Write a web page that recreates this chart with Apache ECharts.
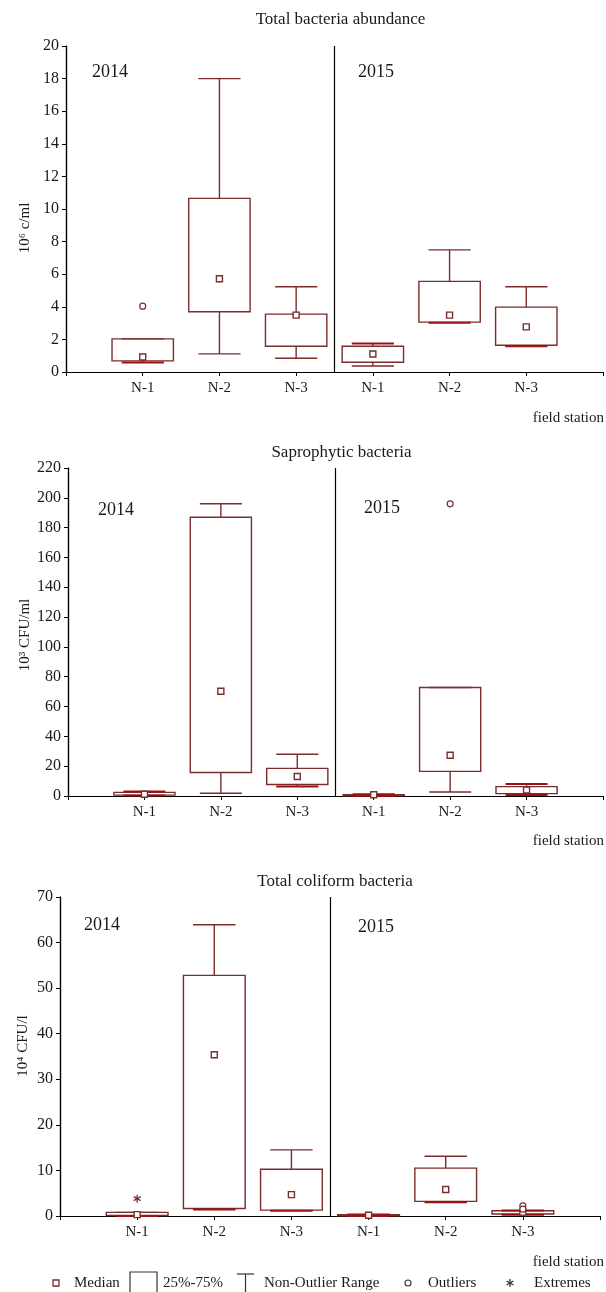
<!DOCTYPE html>
<html>
<head>
<meta charset="utf-8">
<script src="https://cdn.jsdelivr.net/npm/echarts@6/dist/echarts.min.js"></script>
<style>
html,body{margin:0;padding:0;background:#fff;}
#chart{width:606px;height:1292px;}
</style>
</head>
<body>
<div id="chart"></div>
<script>
// ---------- data ----------
const stations = ['N-1', 'N-2', 'N-3', 'N-1', 'N-2', 'N-3'];
const stationPos = [1, 2, 3, 4, 5, 6];
const years = ['2014', '2015'];

// Total bacteria abundance (10^6 c/ml)
const tbaLow  = [0.58, 1.11, 0.84, 0.37, 3.02, 1.58];
const tbaQ1   = [0.68, 3.70, 1.58, 0.60, 3.06, 1.64];
const tbaMed  = [0.92, 5.72, 3.49, 1.10, 3.49, 2.77];
const tbaQ3   = [2.03, 10.65, 3.55, 1.58, 5.56, 3.98];
const tbaHigh = [2.03, 18.0, 5.23, 1.75, 7.49, 5.23];
const tbaOutliers = [[1, 4.04]];
const tbaExtremes = [];
const tbaTicks = [0, 20, 2];

// Saprophytic bacteria (10^3 CFU/ml)
const sapLow  = [0.3, 1.8, 6.3, 0.1, 2.7, 0.7];
const sapQ1   = [0.6, 15.8, 7.7, 0.2, 16.5, 1.6];
const sapMed  = [1.2, 70.3, 13.1, 0.8, 27.3, 4.0];
const sapQ3   = [2.4, 187.0, 18.5, 0.9, 72.8, 6.3];
const sapHigh = [3.0, 196.0, 28.0, 1.1, 72.8, 8.1];
const sapOutliers = [[5, 196]];
const sapExtremes = [];
const sapTicks = [0, 220, 20];

// Total coliform bacteria (10^4 CFU/l)
const colLow  = [0.0, 1.43, 1.15, 0.0, 3.0, 0.3];
const colQ1   = [0.1, 1.65, 1.3, 0.05, 3.2, 0.43];
const colMed  = [0.3, 35.4, 4.7, 0.15, 5.8, 0.85];
const colQ3   = [0.8, 52.8, 10.25, 0.3, 10.5, 1.15];
const colHigh = [0.8, 63.9, 14.5, 0.35, 13.1, 1.2];
const colOutliers = [[6, 2.2], [6, 1.5]];
const colExtremes = [[1, 3.8]];
const colTicks = [0, 70, 10];

// ---------- style ----------
const FONT = "'Liberation Serif', 'Times New Roman', serif";
const BOX = '#7a2d2d';
const RED = '#9a1212';
const TXT = '#1a1a1a';

const panels = [
  {title: 'Total bacteria abundance', yName: '10\u2076 c/ml', low: tbaLow, q1: tbaQ1, med: tbaMed, q3: tbaQ3, high: tbaHigh,
   out: tbaOutliers, ext: tbaExtremes, ticks: tbaTicks, grid: {left: 66, top: 46, width: 539, height: 326},
   titleY: 6, yearY: [63, 63], yearX: [92, 358], fsY: 411, nameX: 25, nameY: 228},
  {title: 'Saprophytic bacteria', yName: '10\u00b3 CFU/ml', low: sapLow, q1: sapQ1, med: sapMed, q3: sapQ3, high: sapHigh,
   out: sapOutliers, ext: sapExtremes, ticks: sapTicks, grid: {left: 68, top: 468, width: 537, height: 328},
   titleY: 439, yearY: [501, 499], yearX: [98, 364], fsY: 834, nameX: 25, nameY: 635},
  {title: 'Total coliform bacteria', yName: '10\u2074 CFU/l', low: colLow, q1: colQ1, med: colMed, q3: colQ3, high: colHigh,
   out: colOutliers, ext: colExtremes, ticks: colTicks, grid: {left: 60, top: 897, width: 540, height: 319},
   titleY: 868, yearY: [916, 918], yearX: [84, 358], fsY: 1255, nameX: 23, nameY: 1046}
];

function boxRender(params, api) {
  const x = api.value(0);
  const pLow = api.coord([x, api.value(1)]);
  const pQ1 = api.coord([x, api.value(2)]);
  const pMed = api.coord([x, api.value(3)]);
  const pQ3 = api.coord([x, api.value(4)]);
  const pHigh = api.coord([x, api.value(5)]);
  const bw = api.size([0.8, 0])[0];
  const cw = api.size([0.55, 0])[0];
  const cx = pMed[0];
  const st = {stroke: BOX, lineWidth: 1.4, fill: null};
  // whisker caps sitting on a box edge show as a darker red double line
  const lowSt = Math.abs(pLow[1] - pQ1[1]) < 3.5 ? {stroke: RED, lineWidth: 2} : st;
  const highSt = (Math.abs(pHigh[1] - pQ3[1]) < 3.5 && pHigh[1] !== pQ3[1]) ? {stroke: RED, lineWidth: 2} : st;
  return {
    type: 'group',
    children: [
      {type: 'line', shape: {x1: cx, y1: pHigh[1], x2: cx, y2: pQ3[1]}, style: st},
      {type: 'line', shape: {x1: cx, y1: pQ1[1], x2: cx, y2: pLow[1]}, style: st},
      {type: 'rect', shape: {x: cx - bw / 2, y: pQ3[1], width: bw, height: Math.max(pQ1[1] - pQ3[1], 0.5)}, style: {stroke: BOX, lineWidth: 1.4, fill: '#fff'}},
      {type: 'line', shape: {x1: cx - cw / 2, y1: pHigh[1], x2: cx + cw / 2, y2: pHigh[1]}, style: highSt, z2: 2},
      {type: 'line', shape: {x1: cx - cw / 2, y1: pLow[1], x2: cx + cw / 2, y2: pLow[1]}, style: lowSt, z2: 2},
      {type: 'rect', shape: {x: cx - 3, y: pMed[1] - 3, width: 6, height: 6}, style: {stroke: BOX, lineWidth: 1.4, fill: '#fff'}, z2: 3}
    ]
  };
}
function outRender(params, api) {
  const p = api.coord([api.value(0), api.value(1)]);
  return {type: 'circle', shape: {cx: p[0], cy: p[1], r: 3}, style: {stroke: BOX, lineWidth: 1.2, fill: '#fff'}};
}
function asterisk(cx, cy, r, color) {
  const st = {stroke: color || BOX, lineWidth: 1.3};
  const k = Math.sin(Math.PI / 3) * r, h = r / 2;
  return [
    {type: 'line', shape: {x1: cx, y1: cy - r, x2: cx, y2: cy + r}, style: st},
    {type: 'line', shape: {x1: cx - k, y1: cy - h, x2: cx + k, y2: cy + h}, style: st},
    {type: 'line', shape: {x1: cx - k, y1: cy + h, x2: cx + k, y2: cy - h}, style: st}
  ];
}
function extRender(params, api) {
  const p = api.coord([api.value(0), api.value(1)]);
  return {type: 'group', children: asterisk(p[0], p[1], 4)};
}

const option = {
  animation: false,
  backgroundColor: '#fff',
  title: [], grid: [], xAxis: [], yAxis: [], series: [], graphic: []
};

panels.forEach((pn, i) => {
  const g = pn.grid;
  option.title.push({text: pn.title, left: g.left + g.width / 2, top: pn.titleY, textAlign: 'center',
    textStyle: {fontFamily: FONT, fontSize: 17, fontWeight: 'normal', color: TXT}});
  option.grid.push(Object.assign({}, g));
  const xBase = {gridIndex: i, type: 'value', min: 0, max: 7, interval: 1, splitLine: {show: false},
    axisLine: {lineStyle: {color: '#000', width: 1.2}}};
  option.xAxis.push(Object.assign({}, xBase, {position: 'bottom',
    axisTick: {inside: false, length: 3, lineStyle: {color: '#000'}},
    axisLabel: {fontFamily: FONT, fontSize: 15, color: TXT, margin: 9,
      formatter: v => (v >= 1 && v <= 6) ? stations[v - 1] : ''}}));
  option.xAxis.push(Object.assign({}, xBase, {position: 'top',
    axisTick: {inside: true, length: 4, lineStyle: {color: '#000'}}, axisLabel: {show: false}}));
  const yBase = {gridIndex: i, type: 'value', min: pn.ticks[0], max: pn.ticks[1], interval: pn.ticks[2],
    splitLine: {show: false}, axisLine: {show: true, lineStyle: {color: '#000', width: 1.2}}};
  option.yAxis.push(Object.assign({}, yBase, {position: 'left',
    axisTick: {show: true, inside: false, length: 4, lineStyle: {color: '#000'}},
    axisLabel: {fontFamily: FONT, fontSize: 16, color: TXT, margin: 7}}));
  option.yAxis.push(Object.assign({}, yBase, {position: 'right',
    axisTick: {show: true, inside: true, length: 4, lineStyle: {color: '#000'}}, axisLabel: {show: false}}));

  const boxData = stationPos.map((p, k) => [p, pn.low[k], pn.q1[k], pn.med[k], pn.q3[k], pn.high[k]]);
  option.series.push({type: 'custom', xAxisIndex: 2 * i, yAxisIndex: 2 * i, renderItem: boxRender,
    encode: {x: 0, y: [1, 2, 3, 4, 5]}, data: boxData, z: 3,
    markLine: {silent: true, symbol: 'none', label: {show: false},
      lineStyle: {color: '#000', type: 'solid', width: 1.2}, data: [{xAxis: 3.5}]}});
  if (pn.out.length) option.series.push({type: 'custom', xAxisIndex: 2 * i, yAxisIndex: 2 * i, renderItem: outRender,
    encode: {x: 0, y: 1}, data: pn.out, z: 4});
  if (pn.ext.length) option.series.push({type: 'custom', xAxisIndex: 2 * i, yAxisIndex: 2 * i, renderItem: extRender,
    encode: {x: 0, y: 1}, data: pn.ext, z: 4});

  years.forEach((yr, j) => {
    option.graphic.push({type: 'text', left: pn.yearX[j], top: pn.yearY[j],
      style: {text: yr, font: '18px ' + FONT, fill: TXT}});
  });
  option.graphic.push({type: 'text', right: 2, top: pn.fsY,
    style: {text: 'field station', font: '15px ' + FONT, fill: TXT}});
  option.graphic.push({type: 'text', x: pn.nameX, y: pn.nameY, rotation: Math.PI / 2,
    style: {text: pn.yName, font: '15px ' + FONT, fill: TXT, textAlign: 'center', textVerticalAlign: 'middle'}});
});

// ---------- legend (drawn) ----------
const LY = 1283;
const LF = '15px ' + FONT;
const legendItems = [
  {type: 'rect', shape: {x: 53, y: LY - 3, width: 6, height: 6}, style: {stroke: BOX, lineWidth: 1.3, fill: '#fff'}},
  {type: 'text', x: 74, y: LY, style: {text: 'Median', font: LF, fill: TXT, textVerticalAlign: 'middle'}},
  {type: 'rect', shape: {x: 130, y: LY - 11, width: 27, height: 21}, style: {stroke: '#333', lineWidth: 1.2, fill: '#fff'}},
  {type: 'text', x: 163, y: LY, style: {text: '25%-75%', font: LF, fill: TXT, textVerticalAlign: 'middle'}},
  {type: 'line', shape: {x1: 237, y1: LY - 9, x2: 254, y2: LY - 9}, style: {stroke: '#333', lineWidth: 1.2}},
  {type: 'line', shape: {x1: 245.5, y1: LY - 9, x2: 245.5, y2: LY + 10}, style: {stroke: '#333', lineWidth: 1.2}},
  {type: 'text', x: 264, y: LY, style: {text: 'Non-Outlier Range', font: LF, fill: TXT, textVerticalAlign: 'middle'}},
  {type: 'circle', shape: {cx: 408, cy: LY, r: 3}, style: {stroke: '#333', lineWidth: 1.1, fill: '#fff'}},
  {type: 'text', x: 428, y: LY, style: {text: 'Outliers', font: LF, fill: TXT, textVerticalAlign: 'middle'}}
].concat(asterisk(510, LY, 4, '#333')).concat([
  {type: 'text', x: 534, y: LY, style: {text: 'Extremes', font: LF, fill: TXT, textVerticalAlign: 'middle'}}
]);
legendItems.forEach(it => option.graphic.push(it));

const chart = echarts.init(document.getElementById('chart'), null, {renderer: 'canvas'});
chart.setOption(option);
</script>
</body>
</html>
